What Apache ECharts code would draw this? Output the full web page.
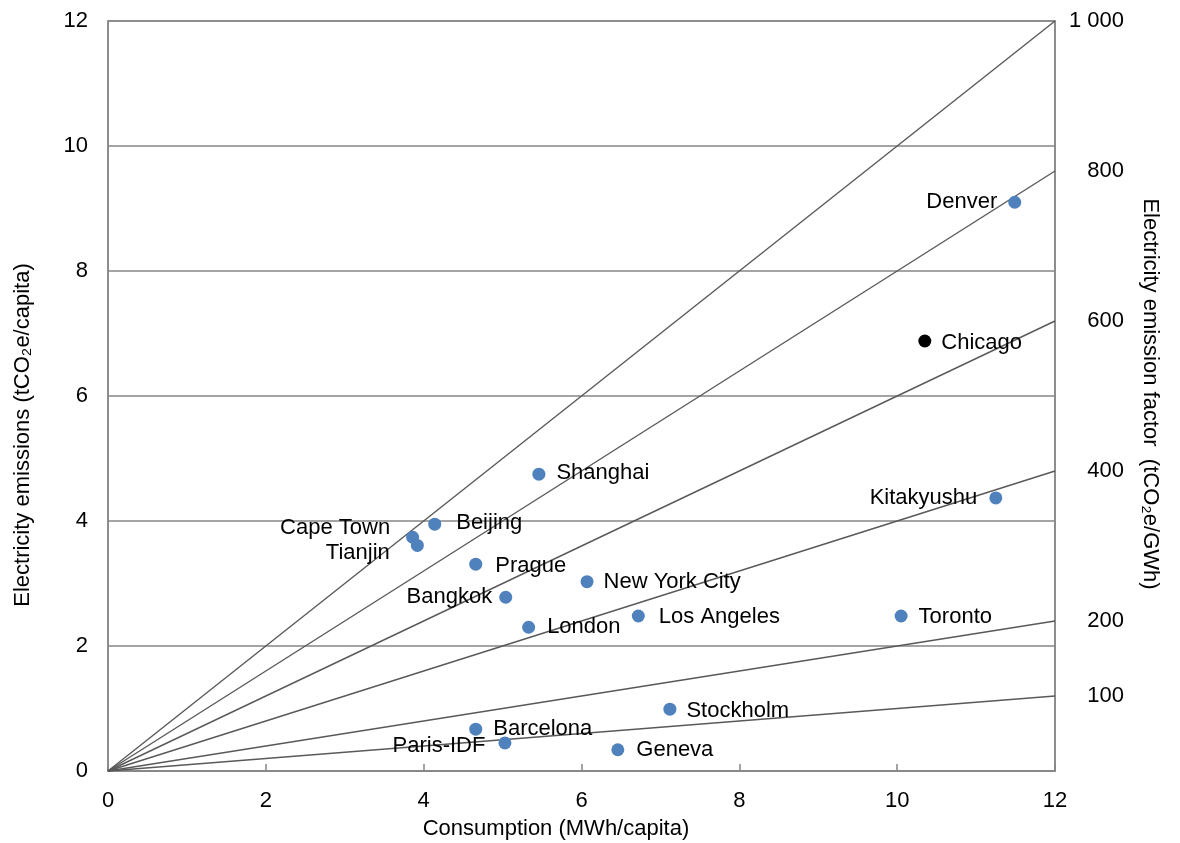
<!DOCTYPE html>
<html>
<head>
<meta charset="utf-8">
<script src="https://cdn.jsdelivr.net/npm/echarts@6/dist/echarts.min.js"></script>
<style>
  html, body { margin: 0; padding: 0; background: #fff; }
  #main { width: 1180px; height: 843px; }
</style>
</head>
<body>
<div id="main"></div>
<script>
// city data
var cities = ['Denver', 'Chicago', 'Shanghai', 'Kitakyushu', 'Beijing', 'Cape Town', 'Tianjin',
  'Prague', 'New York City', 'Bangkok', 'Los Angeles', 'Toronto', 'London', 'Stockholm',
  'Barcelona', 'Paris-IDF', 'Geneva'];
var consumption = [11.49, 10.35, 5.46, 11.25, 4.14, 3.86, 3.92, 4.66, 6.07, 5.04, 6.72, 10.05, 5.33, 7.12, 4.66, 5.03, 6.46];
var emissions = [9.10, 6.88, 4.75, 4.37, 3.95, 3.74, 3.61, 3.31, 3.03, 2.78, 2.48, 2.48, 2.30, 0.99, 0.67, 0.45, 0.34];

// emission factor lines (tCO2e/GWh) and the right axis tick labels
var factors = [1000, 800, 600, 400, 200, 100];
var xTicks = [0, 2, 4, 6, 8, 10, 12];

// label placement, kept apart from the data
var labelPlace = {
  'Denver': ['left', 11, 0],
  'Chicago': ['right', 10, 2],
  'Shanghai': ['right', 11, -1],
  'Kitakyushu': ['left', 12, 0],
  'Beijing': ['right', 15, -1],
  'Cape Town': ['left', 16, -9],
  'Tianjin': ['left', 21, 8],
  'Prague': ['right', 13, 2],
  'New York City': ['right', 10, 0],
  'Bangkok': ['left', 7, 0],
  'Los Angeles': ['right', 14, 1],
  'Toronto': ['right', 11, 1],
  'London': ['right', 12, 0],
  'Stockholm': ['right', 10, 2],
  'Barcelona': ['right', 11, 0],
  'Paris-IDF': ['left', 13, 3],
  'Geneva': ['right', 12, 0]
};
var highlight = { 'Chicago': '#000000' };

var FONT = "'Liberation Sans', Arial, sans-serif";
var myChart = echarts.init(document.getElementById('main'));

var points = cities.map(function (c, i) {
  var p = labelPlace[c];
  return {
    name: c,
    value: [consumption[i], emissions[i]],
    itemStyle: { color: highlight[c] || '#4F81BD', opacity: 1 },
    label: { position: p[0], distance: p[1], offset: [0, p[2]] }
  };
});

var lineSeries = factors.map(function (f) {
  return {
    type: 'line',
    data: [[0, 0], [xTicks[xTicks.length - 1], xTicks[xTicks.length - 1] * f / 1000]],
    symbol: 'none',
    silent: true,
    lineStyle: { color: '#595959', width: 1.4 },
    z: 1
  };
});

var option = {
  backgroundColor: '#fff',
  animation: false,
  textStyle: { fontFamily: FONT },
  grid: {
    left: 108, right: 125, top: 21, bottom: 72,
    show: true, borderColor: '#868686', borderWidth: 1.5
  },
  xAxis: {
    type: 'value', min: 0, max: 12, interval: 2,
    axisLine: { show: true, lineStyle: { color: '#868686', width: 1.5 } },
    axisTick: { show: true, inside: true, length: 7, lineStyle: { color: '#868686', width: 1.5 } },
    splitLine: { show: false },
    axisLabel: { color: '#000', fontSize: 22, margin: 19, fontFamily: FONT }
  },
  yAxis: [
    {
      type: 'value', min: 0, max: 12, interval: 2,
      axisLine: { show: true, lineStyle: { color: '#868686', width: 1.5 } },
      axisTick: { show: false },
      splitLine: { show: true, lineStyle: { color: '#868686', width: 1.5 } },
      axisLabel: { color: '#000', fontSize: 22, margin: 20, fontFamily: FONT }
    },
    {
      type: 'value', min: 0, max: 12, interval: 1.2, position: 'right',
      axisLine: { show: true, lineStyle: { color: '#868686', width: 1.5 } },
      axisTick: { show: false },
      splitLine: { show: false },
      axisLabel: {
        color: '#000', fontSize: 22, margin: 69, align: 'right', fontFamily: FONT,
        formatter: function (v) {
          var f = Math.round(v * 1000 / 12);
          if (factors.indexOf(f) < 0) return '';
          return f >= 1000 ? String(f).replace(/(\d)(\d{3})$/, '$1 $2') : String(f);
        }
      }
    }
  ],
  graphic: [
    {
      type: 'text', x: 23, y: 435, rotation: Math.PI / 2,
      style: { text: 'Electricity emissions (tCO₂e/capita)', fontSize: 22, fontFamily: FONT,
        fill: '#000', align: 'center', verticalAlign: 'middle' }
    },
    {
      type: 'text', x: 1150, y: 394, rotation: -Math.PI / 2,
      style: { text: 'Electricity emission factor  (tCO₂e/GWh)', fontSize: 22, fontFamily: FONT,
        fill: '#000', align: 'center', verticalAlign: 'middle' }
    },
    {
      type: 'text', x: 556, y: 829,
      style: { text: 'Consumption (MWh/capita)', fontSize: 22, fontFamily: FONT,
        fill: '#000', align: 'center', verticalAlign: 'middle' }
    }
  ],
  series: lineSeries.concat([
    {
      type: 'scatter',
      data: points,
      symbolSize: 13,
      z: 3,
      itemStyle: { opacity: 1 },
      label: {
        show: true, formatter: '{b}', color: '#000', fontSize: 22, fontFamily: FONT
      }
    }
  ])
};

option && myChart.setOption(option);
</script>
</body>
</html>
